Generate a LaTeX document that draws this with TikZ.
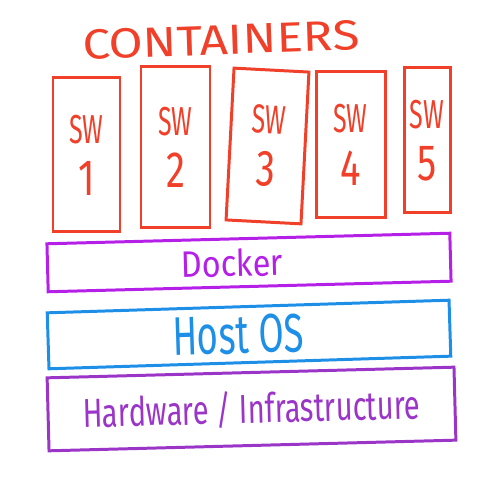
\documentclass[tikz,border=0pt]{standalone}
\usepackage{fontspec}
\setmainfont{Fira Sans}
\usepackage{tikz}
\definecolor{ctrRed}{HTML}{F0402A}
\definecolor{dockPur}{HTML}{B520E8}
\definecolor{hostBlue}{HTML}{1E8FE6}
\definecolor{hwPur}{HTML}{9A35C8}
\tikzset{
  layer/.style={draw=#1,text=#1,line width=1.7pt,inner sep=0pt},
  swbox/.style={draw=ctrRed,text=ctrRed,line width=1.7pt,align=center,inner sep=0pt},
}
% hand lettering is tall and narrow
\newcommand{\narrow}[2]{\scalebox{#1}[1]{#2}}
\newcommand{\swlabel}[1]{{\fontsize{23}{27}\selectfont\narrow{0.62}{SW}}\\[9pt]{\fontsize{29}{29}\selectfont\narrow{0.75}{#1}}}

\begin{document}
\begin{tikzpicture}[x=1cm,y=1cm]
\useasboundingbox (0,0) rectangle (10,10);
\node[text=ctrRed,font=\fontsize{24}{28}\selectfont,rotate=2] (title) at (4.42,9.2) {\narrow{1.17}{CONTAINERS}};
% the five software containers
\node[swbox,minimum width=1.34cm,minimum height=3.08cm] (sw1) at (1.73,6.9) {\swlabel{1}};
\node[swbox,minimum width=1.38cm,minimum height=3.22cm] (sw2) at (3.51,7.05) {\swlabel{2}};
\node[swbox,minimum width=1.50cm,minimum height=3.04cm,rotate=-3] (sw3) at (5.35,7.08) {\swlabel{3}};
\node[swbox,minimum width=1.38cm,minimum height=2.92cm] (sw4) at (7.01,7.10) {\swlabel{4}};
\node[swbox,minimum width=0.92cm,minimum height=2.90cm] (sw5) at (8.54,7.19) {\swlabel{5}};
% stack underneath
\node[layer=dockPur,minimum width=8.06cm,minimum height=0.96cm,rotate=1.5,
      font=\fontsize{21}{24}\selectfont] (docker) at (4.98,4.75) {\narrow{0.88}{Docker}\kern0.68cm};
\node[layer=hostBlue,minimum width=8.04cm,minimum height=1.12cm,rotate=1.8,
      font=\fontsize{31}{34}\selectfont] (host) at (4.98,3.31) {\narrow{0.67}{Host OS}\kern0.44cm};
\node[layer=hwPur,minimum width=8.14cm,minimum height=1.46cm,rotate=1.5,
      font=\fontsize{23}{26}\selectfont] (hw) at (5.03,1.82) {\narrow{0.72}{Hardware / Infrastructure}};
\end{tikzpicture}
\end{document}
